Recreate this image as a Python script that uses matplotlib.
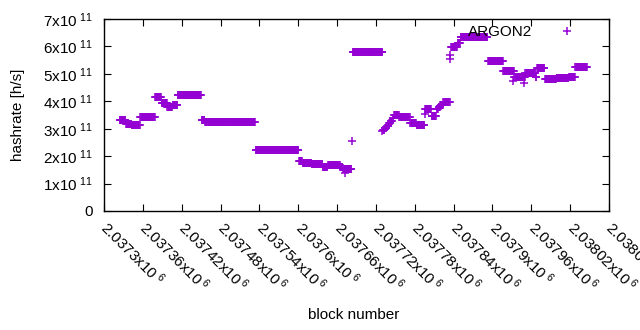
import numpy as np
import matplotlib
matplotlib.use("Agg")
import matplotlib.pyplot as plt
from matplotlib.ticker import FixedLocator, FuncFormatter

plt.rcParams['font.family'] = ['Liberation Sans', 'DejaVu Sans']
plt.rcParams['mathtext.fontset'] = 'custom'
plt.rcParams['mathtext.rm'] = 'Liberation Sans'
plt.rcParams['mathtext.it'] = 'Liberation Sans'
plt.rcParams['mathtext.default'] = 'regular'

# plateau segments: first block, last block, hashrate (x1e11 h/s)
seg_start = [2037324, 2037334, 2037343, 2037356, 2037379, 2037389, 2037398, 2037406,
             2037414, 2037451, 2037456, 2037534, 2037601, 2037607, 2037621, 2037638,
             2037646, 2037665, 2037669, 2037684,
             2037731, 2037734, 2037737, 2037740, 2037743, 2037746,
             2037748, 2037756, 2037773, 2037783, 2037796, 2037806,
             2037814, 2037817, 2037820,
             2037824, 2037836, 2037846, 2037851, 2037893, 2037917, 2037934,
             2037951, 2037967, 2037969, 2037981, 2037999, 2038018, 2038028]
seg_end = [2037333, 2037342, 2037355, 2037378, 2037388, 2037397, 2037405, 2037413,
           2037450, 2037455, 2037533, 2037600, 2037606, 2037620, 2037637, 2037645,
           2037664, 2037668, 2037682, 2037730,
           2037733, 2037736, 2037739, 2037742, 2037745, 2037747,
           2037755, 2037772, 2037782, 2037795, 2037805, 2037813,
           2037816, 2037819, 2037823,
           2037834, 2037845, 2037850, 2037892, 2037916, 2037933, 2037950,
           2037966, 2037968, 2037980, 2037998, 2038017, 2038027, 2038046]
seg_value = [3.31, 3.19, 3.15, 3.42, 4.14, 3.93, 3.80, 3.86,
             4.22, 3.31, 3.23, 2.21, 1.81, 1.74, 1.71, 1.62,
             1.68, 1.62, 1.52, 5.79,
             2.95, 3.03, 3.11, 3.20, 3.29, 3.40,
             3.50, 3.42, 3.22, 3.15, 3.71, 3.46,
             3.72, 3.80, 3.88,
             3.96, 5.97, 6.11, 6.33, 5.48, 5.09, 4.90,
             5.02, 4.90, 5.20, 4.82, 4.85, 4.90, 5.26]

# isolated points
extra_block = [2037683, 2037835, 2037835, 2037672, 2037796, 2037931, 2037948, 2037730]
extra_value = [2.55, 5.69, 5.53, 1.40, 3.52, 4.74, 4.66, 2.92]

xtick_values = [2037300 + 60 * k for k in range(14)]
ytick_values = [0, 1, 2, 3, 4, 5, 6, 7]

blocks = []
values = []
for s, e, v in zip(seg_start, seg_end, seg_value):
    b = np.arange(s, e + 1)
    blocks.extend(b.tolist())
    values.extend([v * 1e11] * len(b))
blocks.extend(extra_block)
values.extend([v * 1e11 for v in extra_value])

W, H = 640, 330
fig = plt.figure(figsize=(6.4, 3.3), dpi=100)
ax = fig.add_axes([104 / W, 1 - 211 / H, (609 - 104) / W, (211 - 19) / H])

color = '#9400D3'
ax.plot(blocks, values, linestyle='none', marker='+', markersize=5.2,
        markeredgewidth=1.1, color=color, label='ARGON2')

ax.set_xlim(2037300, 2038080)
ax.set_ylim(0, 7e11)
ax.xaxis.set_major_locator(FixedLocator(xtick_values))
ax.yaxis.set_major_locator(FixedLocator([v * 1e11 for v in ytick_values]))


def yfmt(v, pos):
    n = int(round(v / 1e11))
    if n == 0:
        return '0'
    return r'$%dx10^{\ 11}$' % n


def xfmt(v, pos):
    s = ('%.5f' % (v / 1e6)).rstrip('0').rstrip('.')
    return r'$%sx10^{\ 6}$' % s


ax.yaxis.set_major_formatter(FuncFormatter(yfmt))
ax.xaxis.set_major_formatter(FuncFormatter(xfmt))
ax.tick_params(direction='in', length=5, width=0.8, top=True, right=True,
               labelsize=11, colors='black')
ax.tick_params(axis='y', pad=8)
ax.tick_params(axis='x', pad=10)
for lab in ax.get_xticklabels():
    lab.set_rotation(-45)
    lab.set_ha('left')
    lab.set_va('center')
    lab.set_rotation_mode('anchor')
for sp in ax.spines.values():
    sp.set_linewidth(1.0)

fig.text(354 / W, 1 - 315 / H, 'block number', ha='center', va='center', fontsize=11)
fig.text(18 / W, 1 - 115 / H, 'hashrate [h/s]', ha='center', va='center',
         rotation=90, fontsize=11)

ax.legend(loc='center right', bbox_to_anchor=(590 / W, 1 - 32 / H),
          bbox_transform=fig.transFigure, frameon=False, markerfirst=False,
          numpoints=1, handlelength=3.0, handletextpad=0.8, borderpad=0,
          borderaxespad=0, fontsize=11)

fig.savefig('out.png', dpi=100)
